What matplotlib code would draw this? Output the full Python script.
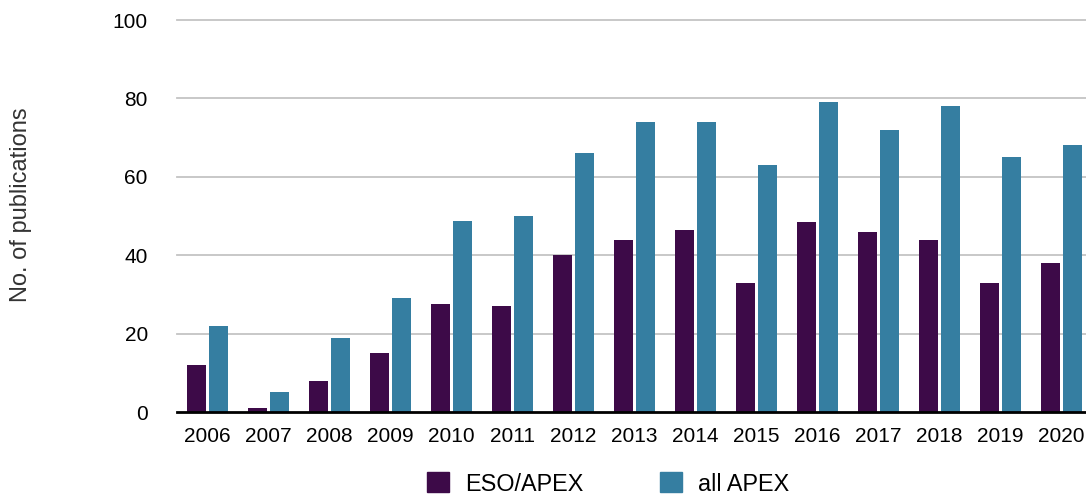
import numpy as np
import matplotlib.pyplot as plt
from matplotlib.patches import Patch

plt.rcParams['font.family'] = ['Liberation Sans', 'DejaVu Sans']

years = ['2006', '2007', '2008', '2009', '2010', '2011', '2012', '2013',
         '2014', '2015', '2016', '2017', '2018', '2019', '2020']
eso_apex = [12, 1, 8, 15, 27.5, 27, 40, 44, 46.5, 33, 48.5, 46, 44, 33, 38]
all_apex = [22, 5, 19, 29, 48.7, 50, 66, 74, 74, 63, 79, 72, 78, 65, 68]

c_eso = '#3d0a48'
c_all = '#357ea1'

fig = plt.figure(figsize=(10.86, 4.96), dpi=100)
# axes runs a bit past the right edge like the original
ax = fig.add_axes([177 / 1086, 84 / 496, 915 / 1086, 392 / 496])

x = np.arange(len(years))
w = 19 / 61
off = 11 / 61
ax.bar(x - off, eso_apex, w, color=c_eso, zorder=2)
ax.bar(x + off, all_apex, w, color=c_all, zorder=2)

ax.set_xlim(-0.5, len(years) - 0.5)
ax.set_ylim(0, 100)
ax.set_yticks([0, 20, 40, 60, 80, 100])
ax.set_xticks(x)
ax.set_xticklabels(years)

for yv in [20, 40, 60, 80, 100]:
    ax.axhline(yv, color='#c4c4c4', lw=1.3, zorder=1, clip_on=False)
ax.axhline(0, color='black', lw=2, zorder=3, clip_on=False)

for s in ax.spines.values():
    s.set_visible(False)
ax.tick_params(axis='both', length=0, labelsize=15, colors='black')
ax.tick_params(axis='y', pad=21)
ax.tick_params(axis='x', pad=11)

fig.text(21 / 1086, 1 - 205 / 496, 'No. of publications', rotation=90,
         ha='center', va='center', fontsize=17, color='#333333')

handles = [Patch(color=c_eso, label='ESO/APEX'), Patch(color=c_all, label='all APEX')]
fig.legend(handles=handles, loc='center', bbox_to_anchor=(608 / 1086, 12 / 496),
           ncol=2, frameon=False, fontsize=16.8, handlelength=0.94, handleheight=0.94,
           handletextpad=0.69, columnspacing=3.26, borderpad=0, borderaxespad=0)

fig.savefig('out.png', dpi=100)
